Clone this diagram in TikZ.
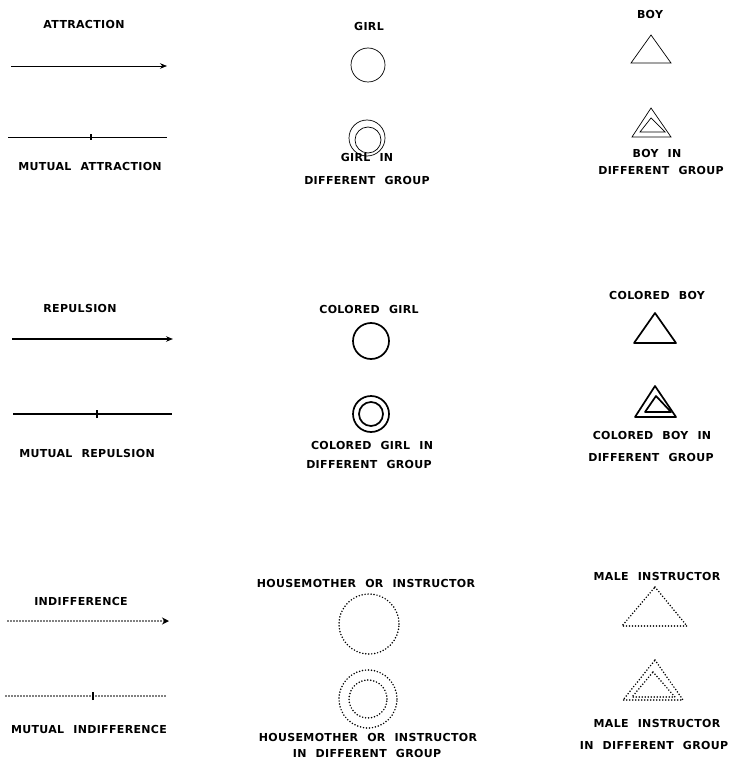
\documentclass[tikz,border=0pt]{standalone}
\usepackage{fontspec}
\newfontfamily\legendfont{DejaVu Sans}[LetterSpace=3,WordSpace=2.2]
\usetikzlibrary{arrows.meta}

\tikzset{
  lbl/.style={font=\legendfont\bfseries\fontsize{11}{13}\selectfont, inner sep=0pt},
  thinline/.style={line width=0.7pt},
  thickline/.style={line width=1.7pt},
  dotline/.style={line width=1.7pt, line cap=round, dash pattern=on 0pt off 3pt},
  tip/.style={-{Stealth[length=7pt,width=5.5pt]}},
}

\begin{document}
\begin{tikzpicture}[x=1pt,y=-1pt]
  \useasboundingbox (0,0) rectangle (735,759);

  % --- attraction
  \node[lbl] (attr) at (84,24) {ATTRACTION};
  \coordinate (attrA) at (11,66);
  \coordinate (attrB) at (167,66);
  \draw[thinline,tip] (attrA) -- (attrB);
  \coordinate (mattA) at (8,137);
  \coordinate (mattB) at (167,137);
  \coordinate (mattT) at (91,137);
  \draw[thinline] (mattA) -- (mattB);
  \draw[line width=1.2pt] ([yshift=-3pt]mattT) -- ([yshift=3pt]mattT);
  \node[lbl] (matt) at (90,166) {MUTUAL ATTRACTION};

  % --- girl
  \node[lbl] (girl) at (369,26) {GIRL};
  \draw[thinline] (368,65) circle[radius=17pt];
  \draw[thinline] (367,138) circle[radius=18pt];
  \draw[thinline] (368,140) circle[radius=13pt];
  \node[lbl] (girldg) at (367,157) {GIRL IN};
  \node[lbl] (girldg2) at (367,180) {DIFFERENT GROUP};

  % --- boy
  \node[lbl] (boy) at (650,14) {BOY};
  \draw[thinline] (651,35) -- (671,63) -- (631,63) -- cycle;
  \draw[thinline] (651,108) -- (671,137) -- (632,137) -- cycle;
  \draw[thinline] (651,118) -- (665,132) -- (640,132) -- cycle;
  \node[lbl] (boydg) at (657,153) {BOY IN};
  \node[lbl] (boydg2) at (661,170) {DIFFERENT GROUP};

  % --- repulsion
  \node[lbl] (rep) at (80,308) {REPULSION};
  \coordinate (repA) at (12,339);
  \coordinate (repB) at (173,339);
  \draw[thickline,tip] (repA) -- (repB);
  \coordinate (mrepA) at (13,414);
  \coordinate (mrepB) at (172,414);
  \coordinate (mrepT) at (97,414);
  \draw[thickline] (mrepA) -- (mrepB);
  \draw[line width=1.8pt] ([yshift=-4pt]mrepT) -- ([yshift=4pt]mrepT);
  \node[lbl] (mrep) at (87,453) {MUTUAL REPULSION};

  % --- colored girl
  \node[lbl] (cgirl) at (369,309) {COLORED GIRL};
  \draw[thickline] (371,341) circle[radius=18pt];
  \draw[thickline] (371,414) circle[radius=18pt];
  \draw[thickline] (371,414) circle[radius=12pt];
  \node[lbl] (cgirldg) at (372,445) {COLORED GIRL IN};
  \node[lbl] (cgirldg2) at (369,464) {DIFFERENT GROUP};

  % --- colored boy
  \node[lbl] (cboy) at (657,295) {COLORED BOY};
  \draw[thickline,line join=round] (655,313) -- (676,343) -- (634,343) -- cycle;
  \draw[thickline,line join=round] (655,386) -- (676,417) -- (635,417) -- cycle;
  \draw[thickline,line join=round] (656,396) -- (671,412) -- (645,412) -- cycle;
  \node[lbl] (cboydg) at (652,435) {COLORED BOY IN};
  \node[lbl] (cboydg2) at (651,457) {DIFFERENT GROUP};

  % --- indifference
  \node[lbl] (ind) at (81,601) {INDIFFERENCE};
  \coordinate (indA) at (8,621);
  \coordinate (indB) at (169,621);
  \draw[dotline,-{Stealth[length=7pt,width=7pt]}] (indA) -- (indB);
  \coordinate (mindA) at (6,696);
  \coordinate (mindB) at (167,696);
  \coordinate (mindT) at (93,696);
  \draw[dotline] (mindA) -- (mindB);
  \draw[line width=1.8pt] ([yshift=-4pt]mindT) -- ([yshift=4pt]mindT);
  \node[lbl] (mind) at (89,729) {MUTUAL INDIFFERENCE};

  % --- housemother
  \node[lbl] (hm) at (366,583) {HOUSEMOTHER OR INSTRUCTOR};
  \draw[dotline] (369,624) circle[radius=30pt];
  \draw[dotline] (368,699) circle[radius=29pt];
  \draw[dotline] (368,699) circle[radius=19pt];
  \node[lbl] (hmdg) at (368,737) {HOUSEMOTHER OR INSTRUCTOR};
  \node[lbl] (hmdg2) at (367,753) {IN DIFFERENT GROUP};

  % --- male instructor
  \node[lbl] (mi) at (657,576) {MALE INSTRUCTOR};
  \draw[dotline] (655,587) -- (687,626) -- (622,626) -- cycle;
  \draw[dotline] (655,660) -- (683,700) -- (623,700) -- cycle;
  \draw[dotline] (653,672) -- (675,697) -- (632,697) -- cycle;
  \node[lbl] (midg) at (657,723) {MALE INSTRUCTOR};
  \node[lbl] (midg2) at (654,745) {IN DIFFERENT GROUP};
\end{tikzpicture}
\end{document}
